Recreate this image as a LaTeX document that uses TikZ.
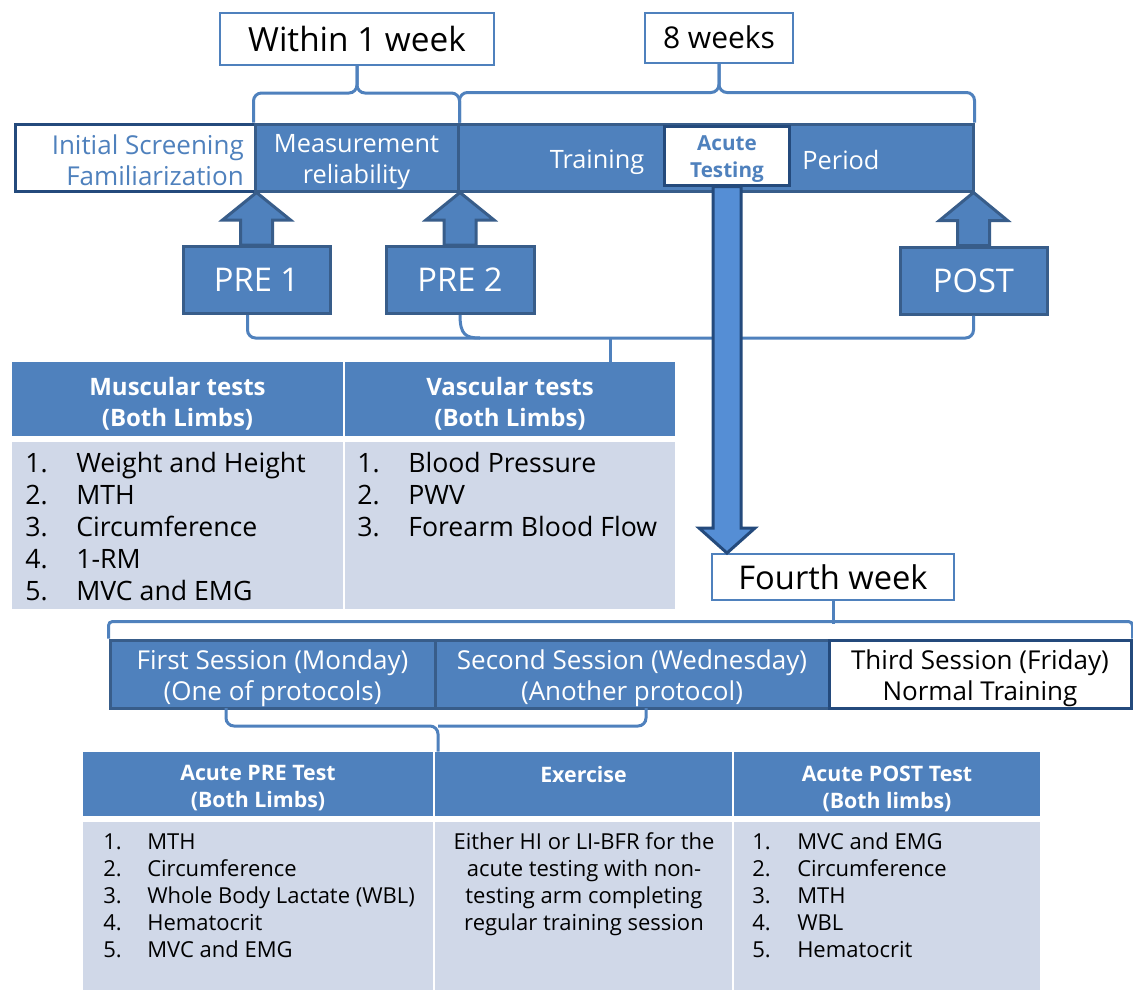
\documentclass[tikz,border=0pt]{standalone}
\usepackage{fontspec}
\setmainfont{Open Sans}
\usetikzlibrary{calc}
\definecolor{bfill}{HTML}{4F81BD}
\definecolor{bdark}{HTML}{385D8A}
\definecolor{bnavy}{HTML}{244A7C}
\definecolor{lbody}{HTML}{D0D8E8}
\definecolor{arrfill}{HTML}{558ED5}
\newcommand\fsz[2]{\fontsize{#1}{#2}\selectfont}
\begin{document}
\begin{tikzpicture}[x=0.75pt,y=-0.75pt,
  px/.style 2 args={minimum width=#1*0.75pt, minimum height=#2*0.75pt},
  topbox/.style={draw=bfill, line width=1.5pt, fill=white, inner sep=0pt, text=black},
  bluebar/.style={fill=bfill, draw=bdark, line width=2.25pt, inner sep=0pt, text=white, align=center},
  whitebar/.style={fill=white, draw=bnavy, line width=2.25pt, inner sep=0pt, align=center},
  hdr/.style={fill=bfill, inner sep=0pt, text=white, align=center},
  cell/.style={fill=lbody, inner sep=0pt},
  brace/.style={draw=bfill, line width=2.25pt, rounded corners=6pt},
  uparrow/.style={fill=bfill, draw=bdark, line width=2.25pt, line join=miter},
  downarrow/.style={fill=arrfill, draw=bnavy, line width=2.25pt, line join=miter},
  txt/.style={inner sep=0pt, align=center}
]
\useasboundingbox (0,0) rectangle (1133,990);
\fill[white] (0,0) rectangle (1133,990);

% top labels
\node[topbox, px={274}{52}, font=\fsz{25}{30}] (w1) at (357,39) {Within 1 week};
\node[topbox, px={148}{50}, font=\fsz{22.5}{27}] (w8) at (719,37.5) {8 weeks};

% main bar
\node[bluebar, px={515}{67}] (train) at (715.5,157.5) {};
\node[whitebar, px={240}{67}] (init) at (135,157.5) {};
\node[bluebar, px={203}{67}] (meas) at (356.5,157.5) {};
\node[txt, text=white, font=\fsz{19}{23.25}] (meast) at ($(meas.center)+(0,4)$) {Measurement\\reliability};
\node[txt, anchor=east, align=right, text=bfill, font=\fsz{19.5}{23.25}] (initt) at (244,160) {Initial Screening\\Familiarization};
\node[txt, text=white, font=\fsz{19}{23}] (trt) at (597,162.5) {Training};
\node[txt, text=white, font=\fsz{19}{23}] (per) at (841,160) {Period};
\node[whitebar, px={125}{59}] (acute) at (727,155.5) {};
\node[txt, text=bfill, font=\bfseries\fsz{15.5}{20.25}] (acutet) at ($(acute.center)+(0,3.5)$) {Acute\\Testing};

% braces top
\draw[brace] (meas.north west) |- ($(w1.south)+(0,27)$) -- (w1.south);
\draw[brace] (w1.south) -- ($(w1.south)+(0,27)$) -| (meas.north east);
\draw[brace] (meas.north east) |- ($(w8.south)+(0,29)$) -- (w8.south);
\draw[brace] (w8.south) -- ($(w8.south)+(0,29)$) -| (train.north east);

% PRE / POST boxes
\node[bluebar, px={147}{67}, font=\fsz{24.5}{29}] (pre1) at (256.5,280) {PRE 1};
\node[bluebar, px={148}{67}, font=\fsz{24.5}{29}] (pre2) at (460,280) {PRE 2};
\node[bluebar, px={147}{67}, font=\fsz{24.5}{29}] (post) at (973.5,280.5) {POST};

% up arrows
\draw[uparrow] ($(pre1.north)+(-16,0)$) -- ($(pre1.north)+(-16,-25)$) -- ($(pre1.north)+(-34,-25)$)
  -- (pre1.north |- init.south) -- ($(pre1.north)+(34,-25)$) -- ($(pre1.north)+(16,-25)$) -- ($(pre1.north)+(16,0)$) -- cycle;
\draw[uparrow] ($(pre2.north)+(-16,0)$) -- ($(pre2.north)+(-16,-25)$) -- ($(pre2.north)+(-34,-25)$)
  -- (pre2.north |- meas.south) -- ($(pre2.north)+(34,-25)$) -- ($(pre2.north)+(16,-25)$) -- ($(pre2.north)+(16,0)$) -- cycle;
\draw[uparrow] ($(post.north)+(-16,0)$) -- ($(post.north)+(-16,-25)$) -- ($(post.north)+(-34,-25)$)
  -- (post.north |- train.south) -- ($(post.north)+(34,-25)$) -- ($(post.north)+(16,-25)$) -- ($(post.north)+(16,0)$) -- cycle;

% table 1
\node[hdr, px={331}{74}] (h11) at (177.5,399) {};
\node[hdr, px={330}{74}] (h12) at (510,399) {};
\node[txt, text=white, font=\bfseries\fsz{18}{23.25}] (h11t) at ($(h11.center)+(0,5)$) {Muscular tests\\(Both Limbs)};
\node[txt, text=white, font=\bfseries\fsz{18}{23.25}] (h12t) at ($(h12.center)+(0,5)$) {Vascular tests\\(Both Limbs)};
\node[cell, px={331}{167}] (c11) at (177.5,525.5) {};
\node[cell, px={330}{167}] (c12) at (510,525.5) {};
\node[txt, anchor=base west, font=\fsz{20}{24}] (l11) at (25,472.5) {\begin{tabular}[t]{@{}p{38.25pt}@{}l@{}}1.&Weight and Height\\2.&MTH\\3.&Circumference\\4.&1-RM\\5.&MVC and EMG\end{tabular}};
\node[txt, anchor=base west, font=\fsz{20}{24}] (l12) at (357,472.5) {\begin{tabular}[t]{@{}p{38.25pt}@{}l@{}}1.&Blood Pressure\\2.&PWV\\3.&Forearm Blood Flow\end{tabular}};

% bracket PRE -> table
\coordinate (bk1) at (610,338);
\draw[brace] ($(pre1.south)+(-9,0)$) |- (bk1) -| (post.south);
\draw[brace] (bk1) -- (bk1 |- h12.north);
\draw[brace, rounded corners=0pt] (pre2.south) .. controls +(0,20) and +(-14,0) .. (480,338);

% fourth week
\node[topbox, px={242}{46}, font=\fsz{24.5}{29}] (fourth) at (833,577) {Fourth week};
\draw[downarrow] ($(acute.south)+(-14,0)$) -- ($(acute.south |- fourth.north)+(-14,-25)$) -- ($(acute.south |- fourth.north)+(-28,-25)$)
  -- (acute.south |- fourth.north) -- ($(acute.south |- fourth.north)+(28,-25)$) -- ($(acute.south |- fourth.north)+(14,-25)$) -- ($(acute.south)+(14,0)$) -- cycle;

% sessions
\node[bluebar, px={325}{68}] (s1) at (272.5,674) {};
\node[bluebar, px={394}{68}] (s2) at (632,674) {};
\node[whitebar, px={302}{68}] (s3) at (980,674) {};
\node[txt, text=white, font=\fsz{19.5}{23.25}] (s1t) at ($(s1.center)+(0,4)$) {First Session (Monday)\\(One of protocols)};
\node[txt, text=white, font=\fsz{19.5}{23.25}] (s2t) at ($(s2.center)+(0,4)$) {Second Session (Wednesday)\\(Another protocol)};
\node[txt, text=black, font=\fsz{19.5}{23.25}] (s3t) at ($(s3.center)+(0,4)$) {Third Session (Friday)\\Normal Training};
\draw[brace, rounded corners=3pt] (s1.north west) -- ++(0,-17) -| (s3.north east);
\draw[brace, rounded corners=3pt] (fourth.south) -- ++(0,23);

% table 2
\node[hdr, px={350}{64}] (h21) at (258,784) {};
\node[hdr, px={297}{64}] (h22) at (583.5,784) {};
\node[hdr, px={306}{64}] (h23) at (887,784) {};
\node[txt, text=white, font=\bfseries\fsz{16}{20.25}] (h21t) at ($(h21.center)+(0,4.5)$) {Acute PRE Test\\(Both Limbs)};
\node[txt, text=white, font=\bfseries\fsz{16}{20.25}] (h22t) at ($(h22.center)+(0,-10)$) {Exercise};
\node[txt, text=white, font=\bfseries\fsz{16}{20.25}] (h23t) at ($(h23.center)+(0,4.5)$) {Acute POST Test\\(Both limbs)};
\node[cell, px={350}{168}] (c21) at (258,906) {};
\node[cell, px={297}{168}] (c22) at (583.5,906) {};
\node[cell, px={306}{168}] (c23) at (887,906) {};
\node[txt, anchor=base west, font=\fsz{16.5}{20.25}] (l21) at (103,849.5) {\begin{tabular}[t]{@{}p{33pt}@{}l@{}}1.&MTH\\2.&Circumference\\3.&Whole Body Lactate (WBL)\\4.&Hematocrit\\5.&MVC and EMG\end{tabular}};
\node[txt, anchor=base, font=\fsz{16.5}{20.25}] (l22) at (584,849.5) {\begin{tabular}[t]{@{}c@{}}Either HI or LI-BFR for the\\acute testing with non-\\testing arm completing\\regular training session\end{tabular}};
\node[txt, anchor=base west, font=\fsz{16.5}{20.25}] (l23) at (752,849.5) {\begin{tabular}[t]{@{}p{33.75pt}@{}l@{}}1.&MVC and EMG\\2.&Circumference\\3.&MTH\\4.&WBL\\5.&Hematocrit\end{tabular}};

% bracket sessions -> table 2
\coordinate (b3l) at (226,708);
\coordinate (b3r) at (646,708);
\coordinate (b3j) at (438,726);
\draw[brace] (b3l) |- (b3j) -- (b3j |- h21.north);
\draw[brace] (b3r) |- (b3j);
\end{tikzpicture}
\end{document}
